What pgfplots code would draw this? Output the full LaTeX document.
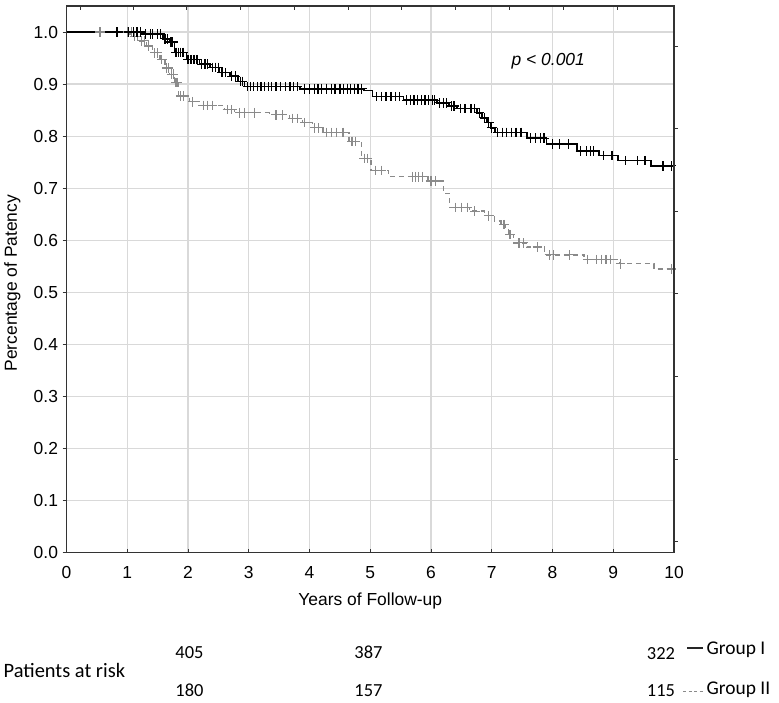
\documentclass[border=0pt]{standalone}
\usepackage{pgfplots}
\pgfplotsset{compat=1.18}
\usepackage{fontspec}
\setmainfont{Liberation Sans}
\newfontfamily\calibri{Carlito}
\definecolor{gridc}{HTML}{D9D9D9}
\definecolor{grp2}{HTML}{8A8A8A}
\begin{document}
\begin{tikzpicture}[x=1bp,y=1bp]
\useasboundingbox (0,0) rectangle (779,703);
\begin{axis}[
  at={(66.5bp,150.3bp)}, anchor=south west, scale only axis,
  width=607.5bp, height=546.7bp,
  xmin=0, xmax=10, ymin=0, ymax=1.05,
  xtick={0,1,2,3,4,5,6,7,8,9,10},
  ytick={0,0.1,0.2,0.3,0.4,0.5,0.6,0.7,0.8,0.9,1.0},
  /pgf/number format/assume math mode=true,
  tick label style={font=\fontsize{17.5}{20}\selectfont},
  xticklabel style={yshift=-10bp},
  yticklabel style={xshift=-1bp, /pgf/number format/.cd, fixed, fixed zerofill, precision=1},
  grid=major, grid style={gridc, line width=1.2bp},
  axis line style={black!80, line width=1.2bp},
  xtick pos=bottom, ytick pos=left,
  major tick length=4bp,
  tick style={black!80, line width=0.8bp},
  xtick align=inside, ytick align=outside,
  xlabel={Years of Follow-up}, ylabel={Percentage of Patency},
  label style={font=\fontsize{17.5}{20}\selectfont},
  xlabel style={at={(axis description cs:0.5,0)}, anchor=center, yshift=-48bp},
  ylabel style={at={(axis description cs:-0.0889,0.493)}, anchor=center},
  clip=false,
]
% Group II (gray dashed) steps
\addplot[const plot, grp2, line width=1.3bp, dash pattern=on 5bp off 4bp, mark=none] coordinates {
(0,1.0)(0.99,0.996)(1.10,0.992)(1.21,0.983)(1.32,0.973)(1.42,0.960)(1.54,0.947)(1.62,0.931)(1.70,0.919)(1.78,0.903)(1.84,0.877)(2.03,0.866)(2.20,0.859)(2.60,0.851)(2.77,0.845)(3.34,0.841)(3.67,0.834)(3.89,0.826)(4.05,0.816)(4.22,0.807)(4.65,0.790)(4.86,0.757)(5.01,0.734)(5.30,0.722)(5.95,0.714)(6.20,0.690)(6.30,0.663)(6.63,0.656)(6.88,0.647)(7.04,0.637)(7.15,0.630)(7.22,0.621)(7.28,0.611)(7.36,0.595)(7.58,0.587)(7.87,0.572)(8.52,0.563)(9.10,0.555)(9.67,0.545)(10.0,0.545)
};
% Group II censor marks
\addplot[only marks, grp2, mark=+, mark size=4.8bp, mark options={line width=1.2bp}] coordinates {
(0.55,1.0)(0.82,1.0)(1.01,1.0)(1.07,1.0)(1.12,0.992)(1.17,0.992)(1.24,0.983)(1.28,0.983)(1.35,0.973)(1.45,0.960)(1.50,0.960)(1.57,0.947)(1.65,0.931)(1.68,0.931)(1.73,0.919)(1.76,0.919)(1.80,0.903)(1.82,0.903)
(1.88,0.877)(1.93,0.877)(2.08,0.866)(2.25,0.859)(2.32,0.859)(2.40,0.859)(2.65,0.851)(2.72,0.851)(2.85,0.845)(2.93,0.845)(3.10,0.845)(3.45,0.841)(3.55,0.841)(3.72,0.834)(3.80,0.834)(3.92,0.826)(4.08,0.816)(4.15,0.816)(4.28,0.807)(4.36,0.807)(4.45,0.807)(4.55,0.807)(4.70,0.790)(4.76,0.790)(4.90,0.757)(4.95,0.757)(5.08,0.734)(5.18,0.734)
(5.70,0.722)(5.75,0.722)(5.80,0.722)(5.86,0.722)(6.00,0.714)(6.08,0.714)(6.40,0.663)(6.50,0.663)(6.60,0.663)(6.72,0.656)(6.95,0.647)(7.20,0.630)(7.30,0.611)(7.45,0.595)(7.52,0.595)(7.75,0.587)(7.95,0.572)(8.02,0.572)(8.28,0.572)(8.58,0.563)(8.72,0.563)(8.80,0.563)(8.88,0.563)(8.96,0.563)(9.12,0.555)(9.96,0.545)
};
% Group I (black solid) steps
\addplot[const plot, black, line width=1.6bp, mark=none] coordinates {
(0,1.0)(1.26,0.996)(1.59,0.987)(1.70,0.981)(1.78,0.961)(1.975,0.947)(2.19,0.938)(2.36,0.932)(2.52,0.922)(2.69,0.915)(2.82,0.905)(2.93,0.895)(3.84,0.891)(4.90,0.888)(5.04,0.876)(5.55,0.869)(6.10,0.864)(6.30,0.858)(6.43,0.853)(6.76,0.845)(6.84,0.835)(6.92,0.826)(6.98,0.816)(7.05,0.807)(7.58,0.796)(7.90,0.785)(8.40,0.771)(8.77,0.763)(9.08,0.753)(9.62,0.743)(10.0,0.743)
};
% Group I censor marks
\addplot[only marks, black, mark=+, mark size=4.8bp, mark options={line width=1.3bp}] coordinates {
(0.83,1.0)(1.02,1.0)(1.10,1.0)(1.16,1.0)(1.22,1.0)(1.30,0.996)(1.38,0.996)(1.42,0.996)(1.50,0.996)(1.55,0.996)(1.62,0.987)(1.66,0.987)(1.72,0.981)(1.75,0.981)
(1.80,0.961)(1.84,0.961)(1.88,0.961)(1.92,0.961)(2.00,0.947)(2.05,0.947)(2.10,0.947)(2.15,0.947)(2.22,0.938)(2.28,0.938)(2.32,0.938)(2.40,0.932)(2.45,0.932)(2.50,0.932)(2.56,0.922)(2.62,0.922)(2.72,0.915)(2.78,0.915)(2.86,0.905)(2.90,0.905)
(2.98,0.895)(3.03,0.895)(3.08,0.895)(3.14,0.895)(3.20,0.895)(3.26,0.895)(3.32,0.895)(3.38,0.895)(3.45,0.895)(3.52,0.895)(3.60,0.895)(3.68,0.895)(3.74,0.895)(3.80,0.895)
(3.92,0.891)(4.00,0.891)(4.08,0.891)(4.14,0.891)(4.20,0.891)(4.28,0.891)(4.36,0.891)(4.42,0.891)(4.50,0.891)(4.56,0.891)(4.62,0.891)(4.68,0.891)(4.74,0.891)(4.80,0.891)(4.86,0.891)
(5.10,0.876)(5.18,0.876)(5.26,0.876)(5.34,0.876)(5.42,0.876)(5.48,0.876)(5.60,0.869)(5.66,0.869)(5.72,0.869)(5.78,0.869)(5.84,0.869)(5.90,0.869)(5.96,0.869)(6.02,0.869)(6.06,0.869)(6.14,0.864)(6.20,0.864)(6.26,0.864)(6.34,0.858)(6.38,0.858)(6.48,0.853)(6.56,0.853)(6.66,0.853)(6.72,0.853)
(6.80,0.845)(6.88,0.835)(6.95,0.826)(7.00,0.816)(7.10,0.807)(7.18,0.807)(7.24,0.807)(7.32,0.807)(7.40,0.807)(7.48,0.807)(7.64,0.796)(7.72,0.796)(7.80,0.796)(7.86,0.796)(8.00,0.785)(8.12,0.785)(8.26,0.785)(8.46,0.771)(8.56,0.771)(8.62,0.771)(8.68,0.771)(8.84,0.763)(8.98,0.763)(9.20,0.753)(9.40,0.753)(9.52,0.753)(9.82,0.743)(9.96,0.743)
};
\node[font=\itshape\fontsize{17.5}{20}\selectfont] at (axis cs:7.93,0.943) {p < 0.001};
\end{axis}
% extra ticks on top and right
\begin{axis}[
  at={(66.5bp,150.3bp)}, anchor=south west, scale only axis,
  width=607.5bp, height=546.7bp,
  xmin=0, xmax=10, ymin=0, ymax=1.05,
  axis x line*=top, axis y line*=right,
  axis line style={black!80, line width=1.2bp},
  xtick={0.222,1.093,1.980,2.868,3.755,4.642,5.513,6.400,7.288,8.175,9.063},
  ytick={0.973,0.814,0.656,0.498,0.338,0.180,0.022},
  xticklabels={}, yticklabels={},
  major tick length=4bp,
  tick style={black!80, line width=0.8bp},
  xtick align=inside, ytick align=outside,
]
\addplot[draw=none] coordinates {(0,0)};
\end{axis}
\begin{scope}[font=\calibri\fontsize{18.5}{22}\selectfont]
\node[anchor=base west, inner sep=0pt, font=\calibri\fontsize{20.5}{24}\selectfont] at (3.5,25.3) {Patients at risk};
\node[anchor=base, inner sep=0pt] at (189.5,44.7) {405};
\node[anchor=base, inner sep=0pt] at (368.5,44.7) {387};
\node[anchor=base, inner sep=0pt] at (661,43.7) {322};
\node[anchor=base, inner sep=0pt] at (189.5,6.3) {180};
\node[anchor=base, inner sep=0pt] at (368.5,6.3) {157};
\node[anchor=base, inner sep=0pt] at (661,6.3) {115};
\draw[black!85, line width=1.3bp] (687,55) -- (703,55);
\node[anchor=base west, inner sep=0pt, font=\calibri\fontsize{19.5}{23}\selectfont] at (706.5,48) {Group I};
\draw[grp2, line width=1bp, dash pattern=on 3bp off 2.5bp] (683,11.5) -- (704,11.5);
\node[anchor=base west, inner sep=0pt, font=\calibri\fontsize{19.5}{23}\selectfont] at (706.5,8) {Group II};
\end{scope}
\end{tikzpicture}
\end{document}
